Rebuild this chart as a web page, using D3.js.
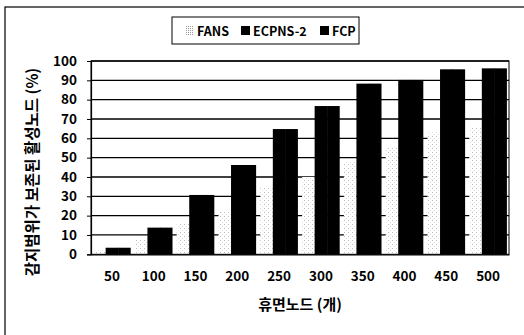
<!DOCTYPE html>
<html>
<head>
<meta charset="utf-8">
<script src="https://cdn.jsdelivr.net/npm/d3@7"></script>
<style>
  html, body { margin: 0; padding: 0; background: #fff; }
  svg { display: block; font-family: "Noto Sans CJK KR", "Noto Sans", sans-serif; font-weight: bold; }
</style>
</head>
<body>
<svg id="chart" width="524" height="335"></svg>
<script>
const categories = ["50","100","150","200","250","300","350","400","450","500"];
const seriesNames = ["FANS","ECPNS-2","FCP"];
const fans   = [2, 8, 16, 22, 35, 40, 48, 55, 63, 66];
const ecpns2 = [3.4, 13.8, 30.7, 46.2, 64.8, 76.7, 88.3, 90.2, 95.7, 96.2];
const fcp    = [3.4, 13.8, 30.7, 46.2, 64.8, 76.7, 88.3, 90.2, 95.7, 96.2];
const yTicks = [0,10,20,30,40,50,60,70,80,90,100];
const xTitle = "휴면노드 (개)";
const yTitle = "감지범위가 보존된 활성노드 (%)";

(function(){
const svg = d3.select("#chart");
const defs = svg.append("defs");
const pat = defs.append("pattern").attr("id","dots").attr("patternUnits","userSpaceOnUse")
  .attr("width",4).attr("height",4);
pat.append("rect").attr("width",4).attr("height",4).attr("fill","#fff");
pat.append("rect").attr("x",0).attr("y",0).attr("width",1).attr("height",1).attr("fill","#bdbdbd");
pat.append("rect").attr("x",2).attr("y",2).attr("width",1).attr("height",1).attr("fill","#e0e0e0");
const pat2 = defs.append("pattern").attr("id","dotsLeg").attr("patternUnits","userSpaceOnUse")
  .attr("width",2).attr("height",2);
pat2.append("rect").attr("width",2).attr("height",2).attr("fill","#fff");
pat2.append("rect").attr("width",1).attr("height",1).attr("fill","#9a9a9a");

// outer frame (top and left visible)
svg.append("rect").attr("x",5).attr("y",7).attr("width",600).attr("height",400)
  .attr("fill","none").attr("stroke","#000").attr("stroke-width",1.2);

const pL = 91, pR = 509, pT = 61, pB = 254.3;
const x0 = d3.scaleBand().domain(categories).range([pL, pR]).paddingInner(0.1).paddingOuter(0.05);
const x1 = d3.scaleBand().domain(seriesNames).range([0, x0.bandwidth()]);
const y = d3.scaleLinear().domain([0,100]).range([pB, pT]);

// gridlines
svg.append("g").selectAll("line").data(yTicks.filter(d=>d>0)).join("line")
  .attr("x1",pL).attr("x2",pR).attr("y1",d=>y(d)).attr("y2",d=>y(d))
  .attr("stroke","#000").attr("stroke-width",1.3);

const fills = {"FANS":"url(#dots)","ECPNS-2":"#000","FCP":"#000"};
const data = seriesNames.map((s,i)=>({name:s, values:[fans,ecpns2,fcp][i]}));
data.forEach(s=>{
  svg.append("g").selectAll("rect").data(s.values).join("rect")
    .attr("x",(d,i)=>x0(categories[i]) + x1(s.name))
    .attr("y",d=>y(d))
    .attr("width",x1.bandwidth()+ (s.name==="ECPNS-2"?0.5:0))
    .attr("height",d=>pB - y(d))
    .attr("fill",fills[s.name]);
});

// plot border
svg.append("rect").attr("x",pL).attr("y",pT).attr("width",pR-pL).attr("height",pB-pT)
  .attr("fill","none").attr("stroke","#000").attr("stroke-width",1);

const fs = 13.5;
// y axis
const yAxis = d3.axisLeft(y).tickValues(yTicks).tickSize(4).tickPadding(10);
const gy = svg.append("g").attr("transform",`translate(${pL},0)`).call(yAxis);
gy.select(".domain").attr("stroke","#000").attr("stroke-width",1.2);
gy.selectAll("text").attr("font-size",fs).attr("font-weight","bold").attr("fill","#000")
  .attr("font-family",'"Noto Sans CJK KR", sans-serif');

// x axis labels
const xAxis = d3.axisBottom(x0).tickSize(0).tickPadding(17);
const gx = svg.append("g").attr("transform",`translate(0,${pB})`).call(xAxis);
gx.select(".domain").attr("stroke","#000").attr("stroke-width",1.2);
gx.selectAll("text").attr("font-size",fs).attr("font-weight","bold").attr("fill","#000")
  .attr("font-family",'"Noto Sans CJK KR", sans-serif');

// titles
svg.append("text").attr("x",300).attr("y",310).attr("text-anchor","middle")
  .attr("font-size",15).text(xTitle);
svg.append("text").attr("transform",`translate(38,${172}) rotate(-90)`)
  .attr("text-anchor","middle").attr("font-size",15.5).text(yTitle);

// legend
const lg = svg.append("g");
lg.append("rect").attr("x",172).attr("y",17).attr("width",187).attr("height",27)
  .attr("fill","#fff").attr("stroke","#000").attr("stroke-width",1);
const legFills = {"FANS":"url(#dotsLeg)","ECPNS-2":"#000","FCP":"#000"};
const items = [
  {name:"FANS", mx:185, tx:197},
  {name:"ECPNS-2", mx:241, tx:253},
  {name:"FCP", mx:320, tx:332}
];
items.forEach(it=>{
  lg.append("rect").attr("x",it.mx).attr("y",26).attr("width",9).attr("height",9)
    .attr("fill",legFills[it.name]);
  lg.append("text").attr("x",it.tx).attr("y",36).attr("font-size",12.5).text(it.name);
});
})();
</script>
</body>
</html>
